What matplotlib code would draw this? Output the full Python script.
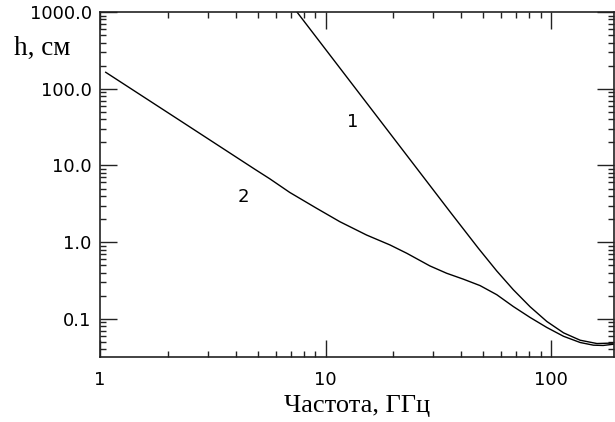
import numpy as np
import matplotlib
matplotlib.use("Agg")
import matplotlib.pyplot as plt
from matplotlib.ticker import LogLocator, FixedLocator, FixedFormatter, NullFormatter

# кривая 1 (частота, ГГц -> h, см)
f1 = [7.2, 15.7, 35.6, 47.6, 57.4, 68.0, 80.7, 95.7, 113.5, 134.5, 159.6, 189.0]
h1 = [1150.0, 57.8, 2.50, 0.832, 0.422, 0.240, 0.144, 0.0927, 0.0659, 0.0528, 0.0478, 0.0485]

# кривая 2
f2 = [1.06, 2.26, 4.86, 5.66, 6.94, 9.12, 11.57, 15.2, 19.3, 22.9, 29.0, 34.4, 40.8,
      48.4, 57.4, 68.0, 80.7, 95.7, 113.5, 134.5, 154.0, 170.0, 189.0]
h2 = [163.8, 38.6, 8.92, 6.7, 4.45, 2.77, 1.85, 1.24, 0.921, 0.718, 0.491, 0.394, 0.330,
      0.272, 0.207, 0.145, 0.1045, 0.0774, 0.0594, 0.0493, 0.0455, 0.0451, 0.0468]

y_ticks = [0.1, 1.0, 10.0, 100.0, 1000.0]
y_labels = ["0.1", "1.0", "10.0", "100.0", "1000.0"]
x_ticks = [1, 10, 100]
x_labels = ["1", "10", "100"]

fig = plt.figure(figsize=(6.15, 4.22), dpi=100)
ax = fig.add_axes([100 / 615, (422 - 357.3) / 422, 514 / 615, 345.3 / 422])

ax.plot(f1, h1, color="black", lw=1.0)
ax.plot(f2, h2, color="black", lw=1.0)

ax.set_xscale("log")
ax.set_yscale("log")
ax.set_xlim(1, 190)
ax.set_ylim(10 ** -1.5, 1000)

ax.xaxis.set_major_locator(FixedLocator(x_ticks))
ax.xaxis.set_major_formatter(FixedFormatter(x_labels))
ax.yaxis.set_major_locator(FixedLocator(y_ticks))
ax.yaxis.set_major_formatter(FixedFormatter(y_labels))
ax.xaxis.set_minor_locator(LogLocator(base=10, subs=np.arange(2, 10), numticks=20))
ax.yaxis.set_minor_locator(LogLocator(base=10, subs=np.arange(2, 10), numticks=20))
ax.xaxis.set_minor_formatter(NullFormatter())
ax.yaxis.set_minor_formatter(NullFormatter())

ax.tick_params(which="both", direction="in", top=True, right=True, color="#222222", width=1.0)
ax.tick_params(which="major", length=12)
ax.tick_params(which="minor", length=4.5)
ax.tick_params(axis="x", which="major", pad=10, labelsize=13)
ax.tick_params(axis="y", which="major", pad=6, labelsize=13)
for s in ax.spines.values():
    s.set_linewidth(1.2)
    s.set_color("#222222")

ax.set_xlabel("Частота, ГГц", fontfamily="Liberation Serif", fontsize=19, labelpad=4)
fig.text(14 / 615, 1 - 55 / 422, "h, см", fontfamily="Liberation Serif", fontsize=19.5, va="baseline")

# подписи кривых
ax.text(13.2, 37.2, "1", fontsize=13, ha="center", va="center")
ax.text(4.3, 3.92, "2", fontsize=13, ha="center", va="center")

fig.savefig("out.png", dpi=100)
